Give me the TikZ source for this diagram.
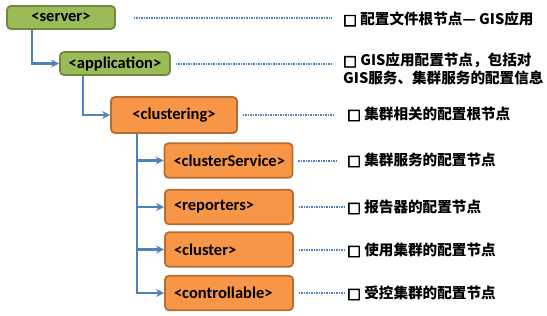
\documentclass[tikz,border=0pt]{standalone}
\usepackage{fontspec}
\setmainfont{Carlito}
\newfontfamily\cjk{Noto Sans CJK SC}
\newfontfamily\sqfont[FakeBold=4]{DejaVu Sans}
\usetikzlibrary{arrows.meta}
\definecolor{gfill}{HTML}{9BBB59}
\definecolor{gdraw}{HTML}{71893F}
\definecolor{ofill}{HTML}{F79646}
\definecolor{odraw}{HTML}{B66D31}
\definecolor{lblue}{HTML}{4F81BD}
\newcommand{\sqbox}{{\sqfont\bfseries □}}
\tikzset{
  box/.style={rounded corners=4pt, line width=1.8pt, inner sep=0pt,
    font=\fontsize{16.5}{19}\selectfont\bfseries},
  gbox/.style={box, fill=gfill, draw=gdraw},
  obox/.style={box, fill=ofill, draw=odraw},
  leftbox/.style={obox, text width=110pt, align=left, inner xsep=9pt, minimum height=34.5pt},
  conn/.style={draw=lblue, line width=2.3pt, -{Stealth[length=8pt,width=8pt]}},
  dots/.style={draw=lblue, line width=2pt, dash pattern=on 1.2pt off 1.3pt},
  note/.style={font=\cjk\bfseries\fontsize{14.6}{18}\selectfont, anchor=west, inner sep=0pt, align=left}
}
\begin{document}
\begin{tikzpicture}[x=1pt,y=-1pt]
\useasboundingbox (0,0) rectangle (547,316);
% boxes
\node[gbox, minimum width=108pt, minimum height=23pt] (server) at (61,17.5) {<server>};
\node[gbox, minimum width=110pt, minimum height=23pt] (application) at (115,63.5) {<application>};
\node[obox, minimum width=126pt, minimum height=36pt] (clustering) at (174,115) {<clustering>};
\node[leftbox] (clusterService) at (228.5,160.5) {<clusterService>};
\node[leftbox] (reporters) at (229,207) {<reporters>};
\node[leftbox] (cluster) at (229,249.5) {<cluster>};
\node[leftbox] (controllable) at (229,293) {<controllable>};
% connectors
\draw[conn] ([xshift=26pt]server.south west) |- (application.west);
\draw[conn] ([xshift=24pt]application.south west) |- (clustering.west);
\coordinate (trunk) at ([xshift=27pt]clustering.south west);
\draw[conn] (trunk) |- (controllable.west);
\foreach \n in {clusterService,reporters,cluster}
  \draw[conn] (trunk |- \n.west) -- (\n.west);
% notes
\node[note] (t1) at (343,19) {\sqbox\ 配置文件根节点— GIS应用};
\node[note] (t2) at (343,69) {\sqbox\ GIS应用配置节点，包括对\\GIS服务、集群服务的配置信息};
\node[note] (t3) at (347,114) {\sqbox\ 集群相关的配置根节点};
\node[note] (t4) at (347,160) {\sqbox\ 集群服务的配置节点};
\node[note] (t5) at (347,207) {\sqbox\ 报告器的配置节点};
\node[note] (t6) at (347,250) {\sqbox\ 使用集群的配置节点};
\node[note] (t7) at (347,293) {\sqbox\ 受控集群的配置节点};
% dotted leaders
\draw[dots, shorten <=18pt, shorten >=11pt] (server.east) -- (server.east -| t1.west);
\draw[dots, shorten <=5pt, shorten >=11pt] (application.east) -- (application.east -| t2.west);
\draw[dots, shorten <=5pt, shorten >=12pt] (clustering.east) -- (clustering.east -| t3.west);
\draw[dots, shorten <=5pt, shorten >=10pt] (clusterService.east) -- (clusterService.east -| t4.west);
\draw[dots, shorten <=5pt, shorten >=2pt] (reporters.east) -- (reporters.east -| t5.west);
\draw[dots, shorten <=5pt, shorten >=2pt] (cluster.east) -- (cluster.east -| t6.west);
\draw[dots, shorten <=5pt, shorten >=2pt] (controllable.east) -- (controllable.east -| t7.west);
\end{tikzpicture}
\end{document}
